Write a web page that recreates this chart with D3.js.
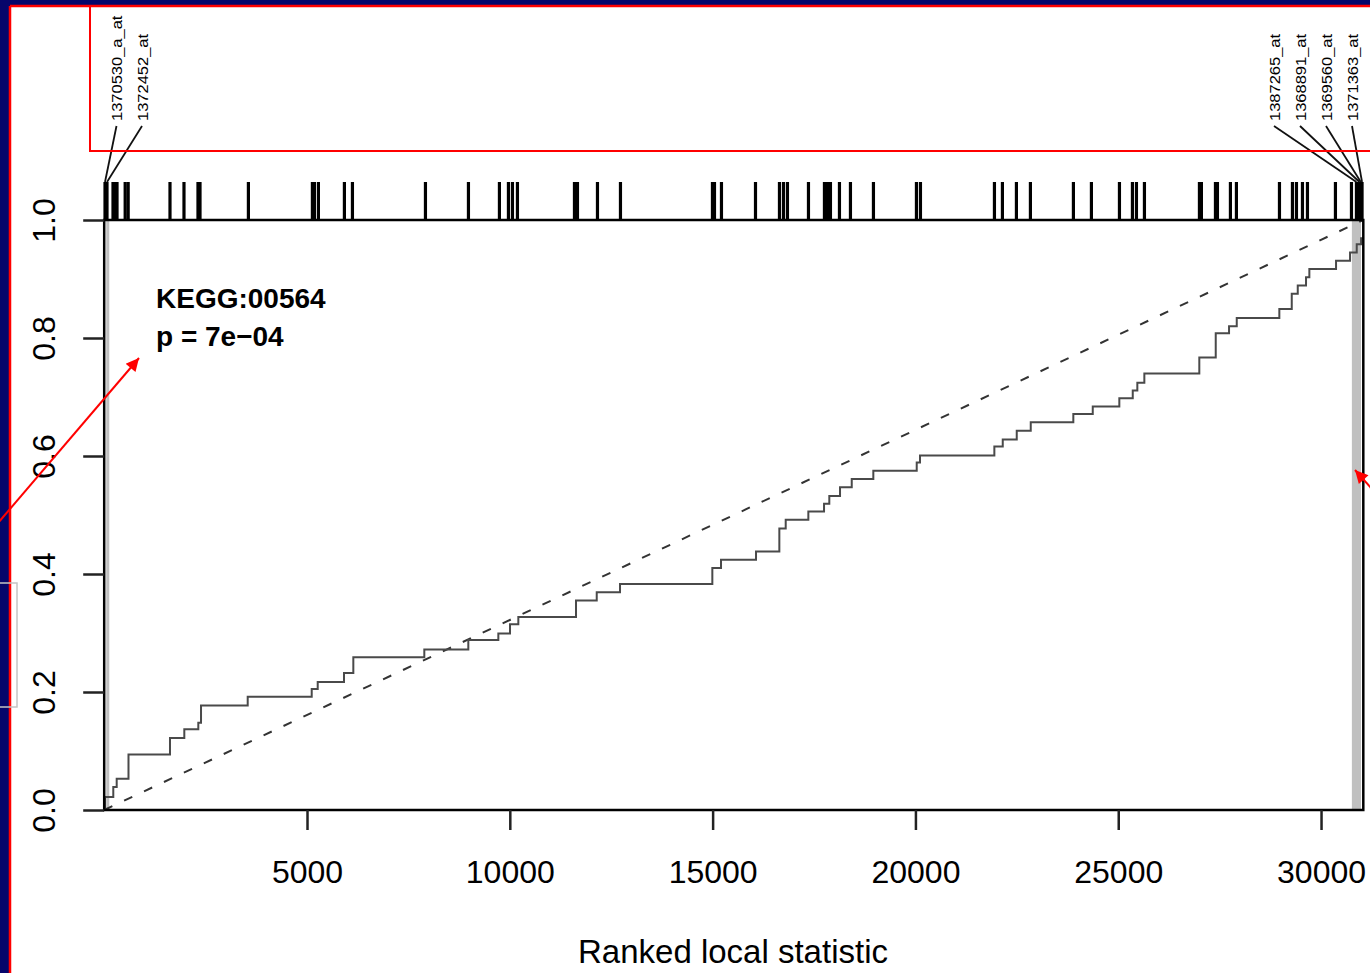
<!DOCTYPE html>
<html>
<head>
<meta charset="utf-8">
<script src="https://cdn.jsdelivr.net/npm/d3@7"></script>
<style>
  body { margin: 0; background: #06066b; }
  svg { display: block; }
  text { font-family: "Liberation Sans", Arial, Helvetica, sans-serif; }
</style>
</head>
<body>
<div class="canvas"></div>
<script>
// Data
// ranks of the genes in the set (rug at the top)
const geneRanks = [20, 69, 217, 266, 316, 517, 591, 1622, 1967, 2312, 2362, 3555,
  5133, 5182, 5281, 5922, 6120, 7920, 8980, 9744, 9966, 10065, 10188, 11594, 11668,
  12161, 12728, 14996, 15046, 15218, 16057, 16648, 16747, 16845, 17363, 17757, 17831,
  17905, 18127, 18398, 18965, 20025, 20124, 21948, 22145, 22490, 22835, 23895, 24339,
  25030, 25350, 25449, 25646, 27002, 27051, 27397, 27446, 27766, 27914, 28975, 29295,
  29394, 29542, 29665, 30355, 30750, 30873, 30947, 30980, 31011];

// step curve: rank where the curve steps up, and the value after the step
const stepRanks = [20, 224, 308, 599, 1622, 1975, 2320, 2387, 3538, 5116, 5264, 5912,
  6142, 7892, 8977, 9717, 10005, 10210, 11632, 12143, 12717, 14993, 15207, 16070,
  16645, 16802, 17360, 17747, 17877, 18141, 18430, 18962, 20032, 20113, 21946, 22153,
  22498, 22843, 23893, 24372, 25027, 25358, 25471, 25644, 26999, 27404, 27732, 27922,
  28972, 29278, 29426, 29630, 29712, 30370, 30715, 30880, 30987];
const stepValues = [0.022, 0.039, 0.053, 0.094, 0.122, 0.137, 0.148, 0.177, 0.192,
  0.205, 0.217, 0.232, 0.259, 0.272, 0.288, 0.299, 0.315, 0.327, 0.355, 0.369, 0.383,
  0.410, 0.424, 0.438, 0.477, 0.492, 0.506, 0.519, 0.532, 0.547, 0.561, 0.575, 0.589,
  0.601, 0.616, 0.628, 0.643, 0.657, 0.671, 0.684, 0.698, 0.711, 0.724, 0.740, 0.767,
  0.808, 0.820, 0.834, 0.849, 0.875, 0.889, 0.903, 0.917, 0.931, 0.945, 0.959, 0.969];

const nRanks = 31042;
const bandStarts = [50, 30760];
const bandEnds = [125, 30985];

const xTicks = [5000, 10000, 15000, 20000, 25000, 30000];
const yTicks = [0, 0.2, 0.4, 0.6, 0.8, 1.0];

const leftLabels = ['1370530_a_at', '1372452_at'];
const leftLabelRanks = [20, 69];
const rightLabels = ['1387265_at', '1368891_at', '1369560_at', '1371363_at'];
const rightLabelRanks = [30873, 30947, 30980, 31011];

const setName = 'KEGG:00564';
const pText = 'p = 7e\u221204';
const xTitle = 'Ranked local statistic';

// Setup dimensions
const dims = { width: 1370, height: 973 };
const plot = { left: 104.2, right: 1363.3, top: 220, bottom: 810 };

const svg = d3.select('.canvas')
  .append('svg')
  .attr('width', dims.width)
  .attr('height', dims.height);

// slide background
svg.append('rect')
  .attr('width', dims.width).attr('height', dims.height)
  .attr('fill', '#06066b');
svg.append('rect')
  .attr('x', 10).attr('y', 6)
  .attr('width', dims.width).attr('height', dims.height)
  .attr('fill', 'white');
svg.append('line')
  .attr('x1', 10).attr('x2', dims.width).attr('y1', 6).attr('y2', 6)
  .attr('stroke', '#ff0000').attr('stroke-width', 2.5);
svg.append('line')
  .attr('x1', 10).attr('x2', 10).attr('y1', 6).attr('y2', dims.height)
  .attr('stroke', '#ff0000').attr('stroke-width', 2.5);

const x = d3.scaleLinear().domain([0, nRanks]).range([plot.left, plot.right]);
const y = d3.scaleLinear().domain([0, 1]).range([plot.bottom, plot.top]);

const graph = svg.append('g');

// grey bands
graph.selectAll('rect.band')
  .data(bandStarts)
  .enter().append('rect')
    .attr('class', 'band')
    .attr('x', d => x(d))
    .attr('width', (d, i) => x(bandEnds[i]) - x(d))
    .attr('y', plot.top)
    .attr('height', plot.bottom - plot.top)
    .attr('fill', '#c0c0c0');

// diagonal reference
graph.append('line')
  .attr('x1', x(0)).attr('y1', y(0))
  .attr('x2', x(nRanks)).attr('y2', y(1))
  .attr('stroke', '#333')
  .attr('stroke-width', 2)
  .attr('stroke-dasharray', '9,13');

// step curve
const stepData = [[0, 0]].concat(stepRanks.map((r, i) => [r, stepValues[i]]));
stepData.push([nRanks, stepValues[stepValues.length - 1]]);

const stepLine = d3.line()
  .x(d => x(d[0]))
  .y(d => y(d[1]))
  .curve(d3.curveStepAfter);

graph.append('path')
  .datum(stepData)
  .attr('d', stepLine)
  .attr('fill', 'none')
  .attr('stroke', '#4a4a4a')
  .attr('stroke-width', 2);

// box
graph.append('rect')
  .attr('x', plot.left).attr('y', plot.top)
  .attr('width', plot.right - plot.left)
  .attr('height', plot.bottom - plot.top)
  .attr('fill', 'none')
  .attr('stroke', 'black')
  .attr('stroke-width', 2.5);

// rug
graph.selectAll('line.rug')
  .data(geneRanks)
  .enter().append('line')
    .attr('class', 'rug')
    .attr('x1', d => x(d)).attr('x2', d => x(d))
    .attr('y1', plot.top).attr('y2', 182)
    .attr('stroke', 'black')
    .attr('stroke-width', 3.2);

// axes
const xAxis = d3.axisBottom(x)
  .tickValues(xTicks)
  .tickSize(20)
  .tickPadding(30)
  .tickFormat(d3.format('d'));

const xAxisGroup = svg.append('g')
  .attr('transform', `translate(0, ${plot.bottom})`)
  .call(xAxis);
xAxisGroup.select('.domain').remove();
xAxisGroup.selectAll('line').attr('stroke', '#222').attr('stroke-width', 2.5);
xAxisGroup.selectAll('text')
  .attr('font-size', 32)
  .attr('font-family', '"Liberation Sans", Arial, sans-serif')
  .attr('fill', 'black');

const yAxis = d3.axisLeft(y)
  .tickValues(yTicks)
  .tickSize(21)
  .tickFormat(d3.format('.1f'));

const yAxisGroup = svg.append('g')
  .attr('transform', `translate(${plot.left}, 0)`)
  .call(yAxis);
yAxisGroup.select('.domain').remove();
yAxisGroup.selectAll('line').attr('stroke', '#222').attr('stroke-width', 2.5);
yAxisGroup.selectAll('text')
  .attr('x', null).attr('dy', null)
  .attr('transform', 'translate(-49, 0) rotate(-90)')
  .attr('text-anchor', 'middle')
  .attr('font-size', 32)
  .attr('font-family', '"Liberation Sans", Arial, sans-serif')
  .attr('fill', 'black');

// x title
svg.append('text')
  .attr('x', 733).attr('y', 963)
  .attr('text-anchor', 'middle')
  .attr('font-size', 33)
  .text(xTitle);

// set name and p value
svg.append('text')
  .attr('x', 156).attr('y', 308)
  .attr('font-size', 28).attr('font-weight', 'bold')
  .text(setName);
svg.append('text')
  .attr('x', 156).attr('y', 346)
  .attr('font-size', 28).attr('font-weight', 'bold')
  .text(pText);

// gene labels with leader lines
const labelGroup = svg.append('g');
const labelData = leftLabels.map((l, i) => ({ name: l, rank: leftLabelRanks[i], lx: 116.5 + i * 25.5 }))
  .concat(rightLabels.map((l, i) => ({ name: l, rank: rightLabelRanks[i], lx: 1274 + i * 26 })));

labelGroup.selectAll('line')
  .data(labelData)
  .enter().append('line')
    .attr('x1', d => d.lx).attr('y1', 126)
    .attr('x2', d => x(d.rank)).attr('y2', 182)
    .attr('stroke', '#111')
    .attr('stroke-width', 1.8);

labelGroup.selectAll('text')
  .data(labelData)
  .enter().append('text')
    .attr('transform', d => `translate(${d.lx + 5.5}, 121) rotate(-90) scale(1.1, 1)`)
    .attr('font-size', 15)
    .attr('fill', 'black')
    .text(d => d.name);

// slide overlays: red box round the labels, arrows, grey box
svg.append('rect')
  .attr('x', 90).attr('y', 6)
  .attr('width', 1300).attr('height', 145)
  .attr('fill', 'none')
  .attr('stroke', '#ff0000')
  .attr('stroke-width', 2);

svg.append('rect')
  .attr('x', -2).attr('y', 583)
  .attr('width', 19).attr('height', 124)
  .attr('fill', 'none')
  .attr('stroke', '#c4c4c4')
  .attr('stroke-width', 1.5);

const defs = svg.append('defs');
defs.append('marker')
  .attr('id', 'arrow')
  .attr('viewBox', '0 0 10 10')
  .attr('refX', 10).attr('refY', 5)
  .attr('markerWidth', 17).attr('markerHeight', 13)
  .attr('markerUnits', 'userSpaceOnUse')
  .attr('orient', 'auto')
  .append('path')
    .attr('d', 'M0,0 L10,5 L0,10 z')
    .attr('fill', '#ff0000');

const arrows = [
  { x1: -2, y1: 523, x2: 139, y2: 358 },
  { x1: 1380, y1: 498, x2: 1355, y2: 470 }
];
svg.selectAll('line.arrow')
  .data(arrows)
  .enter().append('line')
    .attr('class', 'arrow')
    .attr('x1', d => d.x1).attr('y1', d => d.y1)
    .attr('x2', d => d.x2).attr('y2', d => d.y2)
    .attr('stroke', '#ff0000')
    .attr('stroke-width', 2)
    .attr('marker-end', 'url(#arrow)');
</script>
</body>
</html>
